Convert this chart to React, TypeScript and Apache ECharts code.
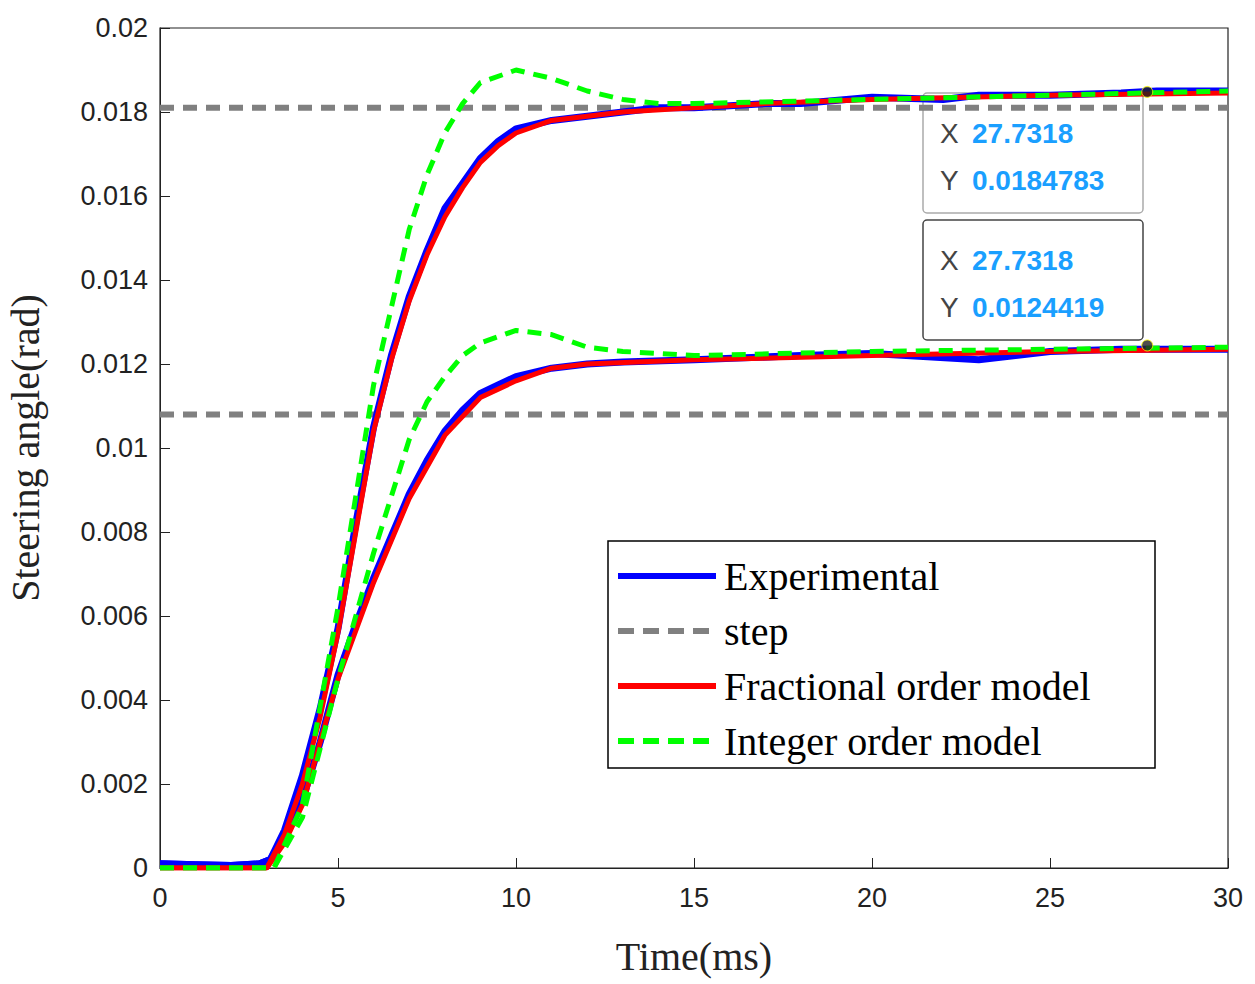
import React, { useEffect, useRef } from 'react';
import * as echarts from 'echarts';

const expUpperX = [0, 1, 2, 2.8, 3.1, 3.5, 4, 4.5, 5, 5.5, 6, 6.5, 7, 7.5, 8, 8.5, 9, 9.5, 10, 11, 12, 13, 14, 15, 16, 17, 18, 20, 22, 23, 25, 27, 28, 30];
const expUpperY = [0.0001, 0.00008, 0.00006, 0.0001, 0.0002, 0.0009, 0.0022, 0.0038, 0.0057, 0.0082, 0.0105, 0.0122, 0.0136, 0.0147, 0.0157, 0.0163, 0.0169, 0.0173, 0.0176, 0.0178, 0.0179, 0.018, 0.0181, 0.0181, 0.01815, 0.0182, 0.0182, 0.01835, 0.0183, 0.0184, 0.0184, 0.01845, 0.0185, 0.0185];
const fracUpperX = [0, 3, 3.5, 4, 4.5, 5, 5.5, 6, 6.5, 7, 7.5, 8, 8.5, 9, 9.5, 10, 11, 12, 13, 15, 17, 20, 25, 30];
const fracUpperY = [0, 0, 0.0008, 0.002, 0.0036, 0.0056, 0.008, 0.0104, 0.0121, 0.0135, 0.0146, 0.0155, 0.0162, 0.0168, 0.0172, 0.0175, 0.0178, 0.0179, 0.018, 0.0181, 0.0182, 0.0183, 0.0184, 0.01845];
const intUpperX = [0, 3.2, 4, 5, 6, 7, 7.5, 8, 8.5, 9, 10, 11, 12, 13, 14, 15, 20, 25, 30];
const intUpperY = [0, 0, 0.0015, 0.0062, 0.0115, 0.0152, 0.0165, 0.0175, 0.0182, 0.0187, 0.019, 0.0188, 0.0185, 0.0183, 0.0182, 0.0182, 0.0183, 0.0184, 0.0185];

const expLowerX = [0, 1, 2, 2.8, 3.1, 3.5, 4, 4.5, 5, 5.5, 6, 6.5, 7, 7.5, 8, 8.5, 9, 9.5, 10, 11, 12, 13, 15, 18, 20, 23, 25, 27, 30];
const expLowerY = [0.0001, 0.00008, 0.00006, 0.0001, 0.0002, 0.0008, 0.0016, 0.003, 0.0046, 0.0058, 0.0069, 0.0079, 0.0089, 0.0097, 0.0104, 0.0109, 0.0113, 0.0115, 0.0117, 0.0119, 0.012, 0.01205, 0.0121, 0.0122, 0.01225, 0.0121, 0.0123, 0.01235, 0.01235];
const fracLowerX = [0, 3, 3.5, 4, 4.5, 5, 6, 7, 8, 9, 10, 11, 12, 15, 20, 25, 30];
const fracLowerY = [0, 0, 0.0006, 0.0015, 0.003, 0.0045, 0.0068, 0.0088, 0.0103, 0.0112, 0.0116, 0.0119, 0.012, 0.0121, 0.0122, 0.0123, 0.01235];
const intLowerX = [0, 3.2, 4, 5, 6, 7, 7.5, 8, 8.5, 9, 10, 11, 12, 13, 15, 20, 25, 30];
const intLowerY = [0, 0, 0.0012, 0.0045, 0.0075, 0.0102, 0.0111, 0.0117, 0.0122, 0.0125, 0.0128, 0.0127, 0.0124, 0.0123, 0.0122, 0.0123, 0.01235, 0.0124];

const stepLevels = [0.0181, 0.0108];
const cursorX = 27.7318;
const cursorY = [0.0184783, 0.0124419];
const legendNames = ['Experimental', 'step', 'Fractional order model', 'Integer order model'];

const zip = (xs: number[], ys: number[]) => xs.map((x, i) => [x, ys[i]]);

export default function App() {
  const ref = useRef<HTMLDivElement>(null);
  useEffect(() => {
    if (!ref.current) return;
    const chart = echarts.init(ref.current, undefined, { renderer: 'svg' });
    const line = (data: number[][], color: string, width: number, dashed: boolean, z = 2) => ({
      type: 'line' as const, data, showSymbol: false, z,
      lineStyle: { color, width, type: dashed ? [14, 9] : 'solid' },
    });
    const serif = 'Liberation Serif, Times New Roman, serif';
    const sans = 'Liberation Sans, Arial, sans-serif';
    const legendColors = ['#0000ff', '#808080', '#ff0000', '#00ff00'];
    const legendGraphics: any[] = [
      { type: 'rect', shape: { x: 608, y: 541, width: 547, height: 227 }, style: { fill: '#fff', stroke: '#000', lineWidth: 1.5 }, z: 100 },
    ];
    legendNames.forEach((n, i) => {
      const y = 576 + i * 55;
      legendGraphics.push({
        type: 'line', shape: { x1: 618, y1: y, x2: 716, y2: y }, z: 101,
        style: { stroke: legendColors[i], lineWidth: 6, lineDash: i % 2 === 1 ? [16, 9] : null },
      });
      legendGraphics.push({
        type: 'text', x: 724, y, z: 101,
        style: { text: n, font: `40px ${serif}`, fill: '#000', verticalAlign: 'middle' },
      });
    });
    const boxes = [93, 220].map((top, i) => ({
      type: 'group', z: 100,
      children: [
        { type: 'rect', shape: { x: 923, y: top, width: 220, height: 120, r: 4 }, style: { fill: 'rgba(255,255,255,0.95)', stroke: i === 0 ? '#aaa' : '#444', lineWidth: 1.5 } },
        { type: 'text', x: 940, y: top + 40, style: { text: 'X', font: `28px ${sans}`, fill: '#444', verticalAlign: 'middle' } },
        { type: 'text', x: 972, y: top + 40, style: { text: String(cursorX), font: `bold 28px ${sans}`, fill: '#1a9fff', verticalAlign: 'middle' } },
        { type: 'text', x: 940, y: top + 87, style: { text: 'Y', font: `28px ${sans}`, fill: '#444', verticalAlign: 'middle' } },
        { type: 'text', x: 972, y: top + 87, style: { text: String(cursorY[i]), font: `bold 28px ${sans}`, fill: '#1a9fff', verticalAlign: 'middle' } },
      ],
    }));
    chart.setOption({
      animation: false,
      backgroundColor: '#fff',
      grid: { left: 160, right: 27, top: 28, bottom: 116, containLabel: false, outerBoundsMode: 'none', show: true, borderColor: '#222', borderWidth: 1.2 },
      xAxis: {
        type: 'value', min: 0, max: 30, interval: 5,
        name: 'Time(ms)', nameLocation: 'middle', nameGap: 68,
        nameTextStyle: { fontFamily: serif, fontSize: 40, color: '#222' },
        axisLine: { lineStyle: { color: '#222' } },
        axisTick: { inside: true, length: 10, lineStyle: { color: '#222' } },
        axisLabel: { fontFamily: sans, fontSize: 27, color: '#222', margin: 16 },
        splitLine: { show: false },
      },
      yAxis: {
        type: 'value', min: 0, max: 0.02, interval: 0.002,
        name: 'Steering angle(rad)', nameLocation: 'middle', nameGap: 115,
        nameTextStyle: { fontFamily: serif, fontSize: 40, color: '#222' },
        axisLine: { lineStyle: { color: '#222' } },
        axisTick: { inside: true, length: 10, lineStyle: { color: '#222' } },
        axisLabel: { fontFamily: sans, fontSize: 27, color: '#222', margin: 12, formatter: (v: number) => String(parseFloat(v.toFixed(3))) },
        splitLine: { show: false },
      },
      series: [
        line(zip([0, 30], [stepLevels[0], stepLevels[0]]), '#808080', 6, true),
        line(zip([0, 30], [stepLevels[1], stepLevels[1]]), '#808080', 6, true),
        line(zip(expUpperX, expUpperY), '#0000ff', 7, false, 3),
        line(zip(expLowerX, expLowerY), '#0000ff', 7, false, 3),
        line(zip(fracUpperX, fracUpperY), '#ff0000', 5, false, 4),
        line(zip(fracLowerX, fracLowerY), '#ff0000', 5, false, 4),
        line(zip(intUpperX, intUpperY), '#00ff00', 5, true, 5),
        line(zip(intLowerX, intLowerY), '#00ff00', 5, true, 5),
        {
          type: 'scatter', z: 6, symbolSize: 11,
          itemStyle: { color: '#222', borderColor: '#ff0', borderWidth: 1 },
          data: cursorY.map((y) => [cursorX, y]),
        },
      ],
      graphic: [...boxes, ...legendGraphics],
    });
    return () => chart.dispose();
  }, []);
  return <div ref={ref} style={{ position: 'fixed', left: 0, top: 0, width: 1255, height: 984 }} />;
}
